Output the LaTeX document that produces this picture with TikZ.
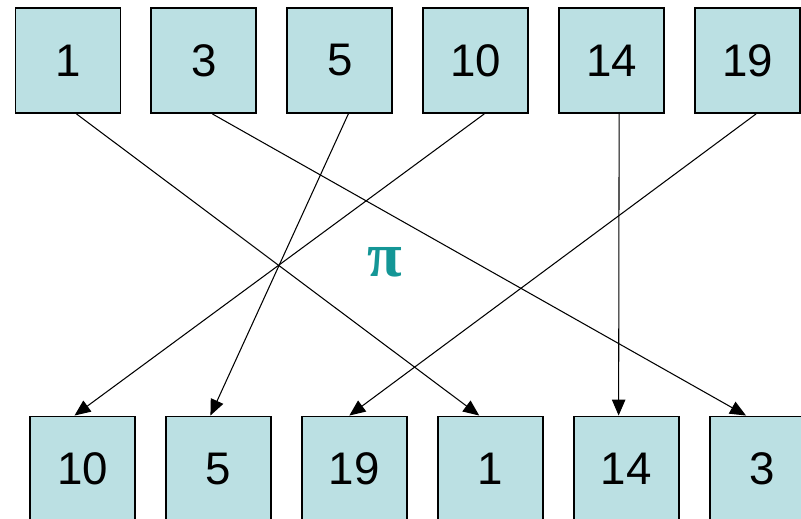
\documentclass[tikz,border=0pt]{standalone}
\usepackage{fontspec}
\setmainfont{Liberation Sans}
\newfontfamily\greekfont{Liberation Serif}
\usepackage{xcolor}
\usetikzlibrary{arrows.meta,positioning}
\definecolor{cellfill}{RGB}{187,224,227}
\definecolor{piteal}{RGB}{20,150,150}

\begin{document}
\begin{tikzpicture}[
  x=0.02cm, y=-0.02cm,
  node distance=5.8mm and 5.8mm,
  cell/.style={draw, line width=1.1pt, fill=cellfill, minimum size=21mm, inner sep=0pt, font=\fontsize{26}{30}\selectfont},
  arr/.style={-{Triangle[length=3.2mm,width=2.7mm]}, line width=0.6pt}
]
\useasboundingbox (0,0) rectangle (801,519);
\clip (0,0) rectangle (801,519);

% top row
\node[cell] (t1) at (68,60.5) {1};
\node[cell, right=of t1] (t3) {3};
\node[cell, right=of t3] (t5) {5};
\node[cell, right=of t5] (t10) {10};
\node[cell, right=of t10] (t14) {14};
\node[cell, right=of t14] (t19) {19};

% permuted row
\node[cell] (b10) at (82.5,469) {10};
\node[cell, right=of b10] (b5) {5};
\node[cell, right=of b5] (b19) {19};
\node[cell, right=of b19] (b1) {1};
\node[cell, right=of b1] (b14) {14};
\node[cell, right=of b14] (b3) {3};

\node[text=piteal, font=\greekfont\bfseries\fontsize{36}{40}\selectfont] (pisym) at (385,262) {π};

\draw[arr] ([xshift=1.7mm]t1.south) -- ([xshift=-2.2mm]b1.north);
\draw[arr] ([xshift=1.7mm]t3.south) -- ([xshift=-3.2mm]b3.north);
\draw[arr] ([xshift=1.7mm]t5.south) -- ([xshift=-1.6mm]b5.north);
\draw[arr] ([xshift=1.7mm]t10.south) -- ([xshift=-1.6mm]b10.north);
\draw[arr] ([xshift=1.5mm]t14.south) -- ([xshift=-1.5mm]b14.north);
\draw[arr] ([xshift=1.7mm]t19.south) -- ([xshift=-1mm]b19.north);
\end{tikzpicture}
\end{document}
